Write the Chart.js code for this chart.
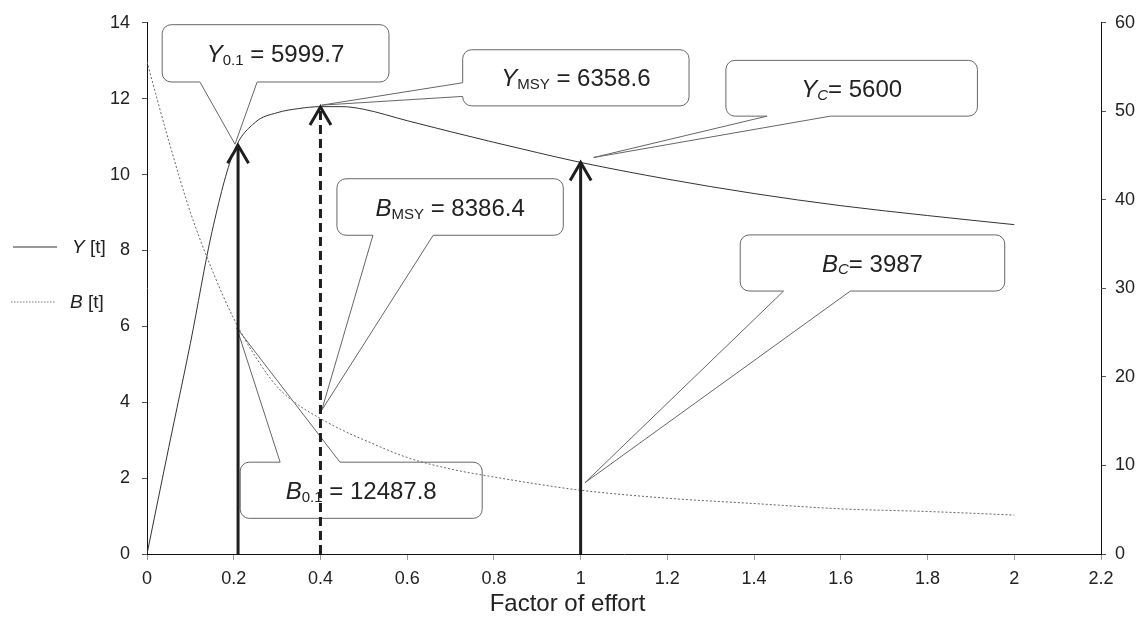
<!DOCTYPE html>
<html>
<head>
<meta charset="utf-8">
<script src="https://cdn.jsdelivr.net/npm/chart.js@4.4.1/dist/chart.umd.min.js"></script>
<style>
  html, body { margin: 0; padding: 0; background: #fff; }
  #wrap { width: 1147px; height: 633px; }
</style>
</head>
<body>
<div id="wrap"><canvas id="myChart" width="1147" height="633"></canvas></div>
<script>
const FONT = "'Liberation Sans', Arial, Helvetica, sans-serif";

// factor of effort
const effort = [0, 0.05, 0.1, 0.15, 0.2, 0.25, 0.3, 0.35, 0.4, 0.45, 0.5, 0.6, 0.7, 0.8, 0.9, 1.0, 1.2, 1.4, 1.6, 1.8, 2.0];
// Y [t] on left axis
const yieldT = [0, 2.8, 5.55, 8.5, 10.6, 11.38, 11.63, 11.74, 11.79, 11.79, 11.72, 11.42, 11.13, 10.85, 10.58, 10.32, 9.88, 9.5, 9.18, 8.92, 8.68];
// B [t] on right axis
const biomassT = [55.6, 46.7, 38.6, 32.1, 26.6, 22.3, 18.9, 16.8, 15.3, 14.0, 12.9, 10.9, 9.6, 8.7, 7.9, 7.2, 6.3, 5.7, 5.1, 4.8, 4.4];

const xTicks = [0, 0.2, 0.4, 0.6, 0.8, 1, 1.2, 1.4, 1.6, 1.8, 2, 2.2];
const yTicks = [0, 2, 4, 6, 8, 10, 12, 14];
const y2Ticks = [0, 10, 20, 30, 40, 50, 60];

// reference arrows (effort, top on left axis)
const arrowX = [0.21, 0.4, 1.0];
const arrowTop = [10.77, 11.78, 10.32];
const arrowDashed = [false, true, false];

// callouts, all in axis units (x, left y)
const callouts = [
  { parts: [{t: 'Y', it: 1}, {t: '0.1', sub: 1}, {t: ' = 5999.7'}], box: [0.035, 0.558, 13.95, 12.44], edge: 'bottom', base: [0.122, 0.254], tip: [0.203, 10.80] },
  { parts: [{t: 'Y', it: 1}, {t: 'MSY', sub: 1}, {t: ' = 6358.6'}], box: [0.728, 1.250, 13.29, 11.81], edge: 'left', base: [12.42, 12.06], tip: [0.403, 11.83] },
  { parts: [{t: 'Y', it: 1}, {t: 'C', sub: 1, it: 1}, {t: '= 5600'}], box: [1.335, 1.915, 13.01, 11.54], edge: 'bottom', base: [1.430, 1.576], tip: [1.030, 10.45] },
  { parts: [{t: 'B', it: 1}, {t: 'MSY', sub: 1}, {t: ' = 8386.4'}], box: [0.438, 0.960, 9.89, 8.40], edge: 'bottom', base: [0.521, 0.660], tip: [0.403, 3.79] },
  { parts: [{t: 'B', it: 1}, {t: 'C', sub: 1, it: 1}, {t: '= 3987'}], box: [1.368, 1.978, 8.41, 6.93], edge: 'bottom', base: [1.468, 1.622], tip: [1.010, 1.88] },
  { parts: [{t: 'B', it: 1}, {t: '0.1', sub: 1}, {t: ' = 12487.8'}], box: [0.215, 0.773, 2.42, 0.94], edge: 'top', base: [0.307, 0.445], tip: [0.207, 5.96] }
];

function drawParts(ctx, parts, cx, cy, size, subSize, align) {
  let total = 0;
  const items = parts.map(p => {
    const f = (p.it ? 'italic ' : '') + (p.sub ? subSize : size) + 'px ' + FONT;
    ctx.font = f;
    const w = ctx.measureText(p.t).width;
    total += w;
    return { f, w, p };
  });
  let x = align === 'left' ? cx : cx - total / 2;
  const base = cy + size * 0.36;
  ctx.textAlign = 'left';
  ctx.textBaseline = 'alphabetic';
  items.forEach(o => {
    ctx.font = o.f;
    ctx.fillText(o.p.t, x, o.p.sub ? base + size * 0.12 : base);
    x += o.w;
  });
}

function calloutPath(ctx, x1, y1, x2, y2, r, edge, b1, b2, tx, ty) {
  ctx.beginPath();
  ctx.moveTo(x1 + r, y1);
  if (edge === 'top') { ctx.lineTo(b1, y1); ctx.lineTo(tx, ty); ctx.lineTo(b2, y1); }
  ctx.lineTo(x2 - r, y1);
  ctx.arcTo(x2, y1, x2, y1 + r, r);
  ctx.lineTo(x2, y2 - r);
  ctx.arcTo(x2, y2, x2 - r, y2, r);
  if (edge === 'bottom') { ctx.lineTo(b2, y2); ctx.lineTo(tx, ty); ctx.lineTo(b1, y2); }
  ctx.lineTo(x1 + r, y2);
  ctx.arcTo(x1, y2, x1, y2 - r, r);
  if (edge === 'left') { ctx.lineTo(x1, b2); ctx.lineTo(tx, ty); ctx.lineTo(x1, b1); }
  ctx.lineTo(x1, y1 + r);
  ctx.arcTo(x1, y1, x1 + r, y1, r);
  ctx.closePath();
  ctx.stroke();
}

const overlay = {
  id: 'overlay',
  afterDatasetsDraw(chart) {
    const ctx = chart.ctx;
    const sx = chart.scales.x, sy = chart.scales.y;
    ctx.save();

    // callouts
    ctx.strokeStyle = '#666';
    ctx.lineWidth = 1;
    ctx.lineJoin = 'miter';
    ctx.fillStyle = '#222';
    callouts.forEach(c => {
      const x1 = sx.getPixelForValue(c.box[0]), x2 = sx.getPixelForValue(c.box[1]);
      const y1 = sy.getPixelForValue(c.box[2]), y2 = sy.getPixelForValue(c.box[3]);
      const conv = c.edge === 'left' ? v => sy.getPixelForValue(v) : v => sx.getPixelForValue(v);
      const a = conv(c.base[0]), b = conv(c.base[1]);
      calloutPath(ctx, x1, y1, x2, y2, 9, c.edge, Math.min(a, b), Math.max(a, b),
        sx.getPixelForValue(c.tip[0]), sy.getPixelForValue(c.tip[1]));
      drawParts(ctx, c.parts, (x1 + x2) / 2, (y1 + y2) / 2, 24, 15, 'center');
    });

    // arrows
    ctx.strokeStyle = '#1e1e1e';
    ctx.lineWidth = 3;
    arrowX.forEach((v, i) => {
      const px = sx.getPixelForValue(v);
      const p0 = sy.getPixelForValue(0);
      const p1 = sy.getPixelForValue(arrowTop[i]);
      ctx.setLineDash(arrowDashed[i] ? [9, 5] : []);
      ctx.beginPath();
      ctx.moveTo(px, p0);
      ctx.lineTo(px, p1 + 2);
      ctx.stroke();
      ctx.setLineDash([]);
      ctx.beginPath();
      ctx.moveTo(px - 10.5, p1 + 18);
      ctx.lineTo(px, p1);
      ctx.lineTo(px + 10.5, p1 + 18);
      ctx.stroke();
    });

    // legend
    ctx.lineWidth = 1;
    ctx.strokeStyle = '#333';
    ctx.beginPath(); ctx.moveTo(13, 247); ctx.lineTo(57, 247); ctx.stroke();
    ctx.strokeStyle = '#777';
    ctx.setLineDash([1.5, 1.5]);
    ctx.beginPath(); ctx.moveTo(11, 302); ctx.lineTo(55, 302); ctx.stroke();
    ctx.setLineDash([]);
    ctx.fillStyle = '#222';
    drawParts(ctx, [{t: 'Y', it: 1}, {t: ' [t]'}], 72, 246, 19, 12, 'left');
    drawParts(ctx, [{t: 'B', it: 1}, {t: ' [t]'}], 70, 301, 19, 12, 'left');

    // axis title, centred on the figure
    ctx.font = '24px ' + FONT;
    ctx.textAlign = 'center';
    ctx.textBaseline = 'middle';
    ctx.fillText('Factor of effort', chart.width / 2 - 6, 604);

    ctx.restore();
  }
};

Chart.defaults.font.family = FONT;
Chart.defaults.color = '#222';

const ctx = document.getElementById('myChart');
new Chart(ctx, {
  type: 'line',
  data: {
    datasets: [
      {
        label: 'Y [t]',
        data: effort.map((e, i) => ({ x: e, y: yieldT[i] })),
        yAxisID: 'y',
        borderColor: '#333',
        borderWidth: 1,
        pointRadius: 0,
        cubicInterpolationMode: 'monotone'
      },
      {
        label: 'B [t]',
        data: effort.map((e, i) => ({ x: e, y: biomassT[i] })),
        yAxisID: 'y2',
        borderColor: '#666',
        borderWidth: 1,
        borderDash: [2, 2],
        pointRadius: 0,
        cubicInterpolationMode: 'monotone'
      }
    ]
  },
  options: {
    responsive: false,
    animation: false,
    layout: { padding: { top: 16, left: 0, right: 0, bottom: 0 } },
    plugins: { legend: { display: false }, tooltip: { enabled: false } },
    scales: {
      x: {
        type: 'linear',
        min: 0,
        max: 2.2,
        afterBuildTicks: s => { s.ticks = xTicks.map(v => ({ value: v })); },
        afterFit: s => { s.height = 79; },
        ticks: { callback: v => String(Math.round(v * 10) / 10), font: { size: 18 }, padding: 8, maxRotation: 0, autoSkip: false },
        grid: { drawOnChartArea: false, drawTicks: true, tickLength: 6, color: '#999' },
        border: { color: '#111', width: 1 }
      },
      y: {
        position: 'left',
        min: 0,
        max: 14,
        afterBuildTicks: s => { s.ticks = yTicks.map(v => ({ value: v })); },
        afterFit: s => { s.width = 147; },
        ticks: { font: { size: 18 }, padding: 12 },
        grid: { drawOnChartArea: false, drawTicks: true, tickLength: 5, color: '#555' },
        border: { color: '#111', width: 1 }
      },
      y2: {
        position: 'right',
        min: 0,
        max: 60,
        afterBuildTicks: s => { s.ticks = y2Ticks.map(v => ({ value: v })); },
        afterFit: s => { s.width = 46; },
        ticks: { font: { size: 18 }, padding: 9 },
        grid: { drawOnChartArea: false, drawTicks: true, tickLength: 5, color: '#555' },
        border: { color: '#111', width: 1 }
      }
    }
  },
  plugins: [overlay]
});
</script>
</body>
</html>
